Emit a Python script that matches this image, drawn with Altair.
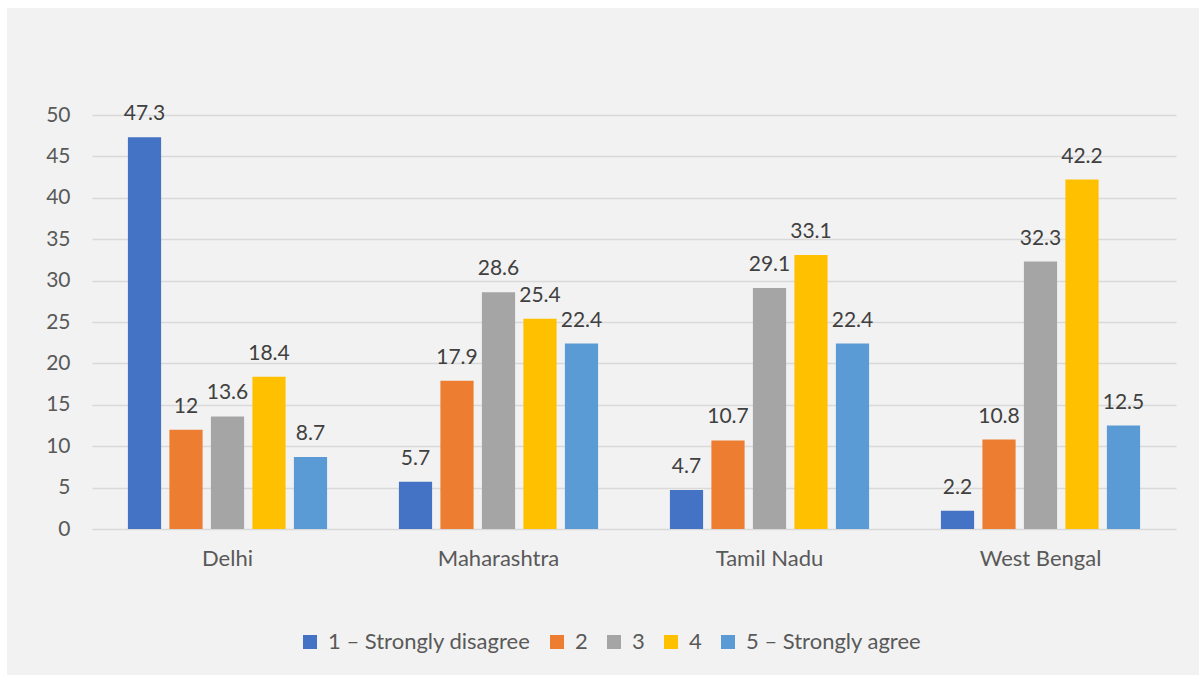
import altair as alt
import pandas as pd

states = ["Delhi", "Maharashtra", "Tamil Nadu", "West Bengal"]
ratings = ["1 – Strongly disagree", "2", "3", "4", "5 – Strongly agree"]
colors = ["#4472c4", "#ed7d31", "#a5a5a5", "#ffc000", "#5b9bd5"]

delhi = [47.3, 12, 13.6, 18.4, 8.7]
maharashtra = [5.7, 17.9, 28.6, 25.4, 22.4]
tamil_nadu = [4.7, 10.7, 29.1, 33.1, 22.4]
west_bengal = [2.2, 10.8, 32.3, 42.2, 12.5]

rows = []
for state, vals in zip(states, [delhi, maharashtra, tamil_nadu, west_bengal]):
    for rating, v in zip(ratings, vals):
        rows.append({"state": state, "rating": rating, "value": v})
df = pd.DataFrame(rows)

FONT = "Lato"
FS = 21
W, H = 1084, 414
PAD = {"left": 92, "top": 115, "right": 23, "bottom": 146}

# thin white margin along the top and left edges of the grey card
edges = pd.DataFrame({
    "x0": [-PAD["left"], -PAD["left"]],
    "x1": [W + PAD["right"], 7 - PAD["left"]],
    "y0": [-PAD["top"], -PAD["top"]],
    "y1": [8 - PAD["top"], H + PAD["bottom"]],
})
margin = alt.Chart(edges).mark_rect(color="white").encode(
    x=alt.X("x0:Q", scale=None), x2="x1:Q",
    y=alt.Y("y0:Q", scale=None), y2="y1:Q",
)

base = alt.Chart(df).encode(
    x=alt.X(
        "state:N",
        sort=states,
        title=None,
        scale=alt.Scale(paddingInner=0.265, paddingOuter=0.1325),
        axis=alt.Axis(labelAngle=0, labelPadding=19, ticks=False, domain=False,
                      labelFont=FONT, labelFontSize=FS + 1, labelColor="#595959"),
    ),
    xOffset=alt.XOffset("rating:N", sort=ratings,
                        scale=alt.Scale(paddingInner=0.2, paddingOuter=0)),
)

bars = base.mark_bar().encode(
    y=alt.Y(
        "value:Q",
        title=None,
        scale=alt.Scale(domain=[0, 50], nice=False),
        axis=alt.Axis(values=list(range(0, 51, 5)), ticks=False, domain=False,
                      gridColor="#d9d9d9", gridWidth=1.5, labelPadding=22,
                      labelFont=FONT, labelFontSize=FS, labelColor="#595959"),
    ),
    color=alt.Color(
        "rating:N",
        sort=ratings,
        scale=alt.Scale(domain=ratings, range=colors),
        legend=alt.Legend(
            title=None, orient="none", direction="horizontal",
            legendX=207, legendY=516, symbolType="square", symbolSize=196,
            symbolStrokeWidth=0, labelFont=FONT, labelFontSize=FS + 1,
            labelColor="#595959", columnPadding=15, labelOffset=7, padding=0,
            labelLimit=400,
        ),
    ),
)

labels = base.mark_text(baseline="alphabetic", dy=-17, font=FONT, fontSize=FS,
                        color="#404040").encode(
    y="value:Q",
    text=alt.Text("value:Q", format=".1~f"),
)

chart = alt.layer(margin, bars, labels).properties(
    width=W, height=H, padding=PAD, autosize="none", background="#f2f2f2"
).configure_view(stroke=None)

chart.save("out.html", embed_options={"renderer": "svg", "actions": False})
